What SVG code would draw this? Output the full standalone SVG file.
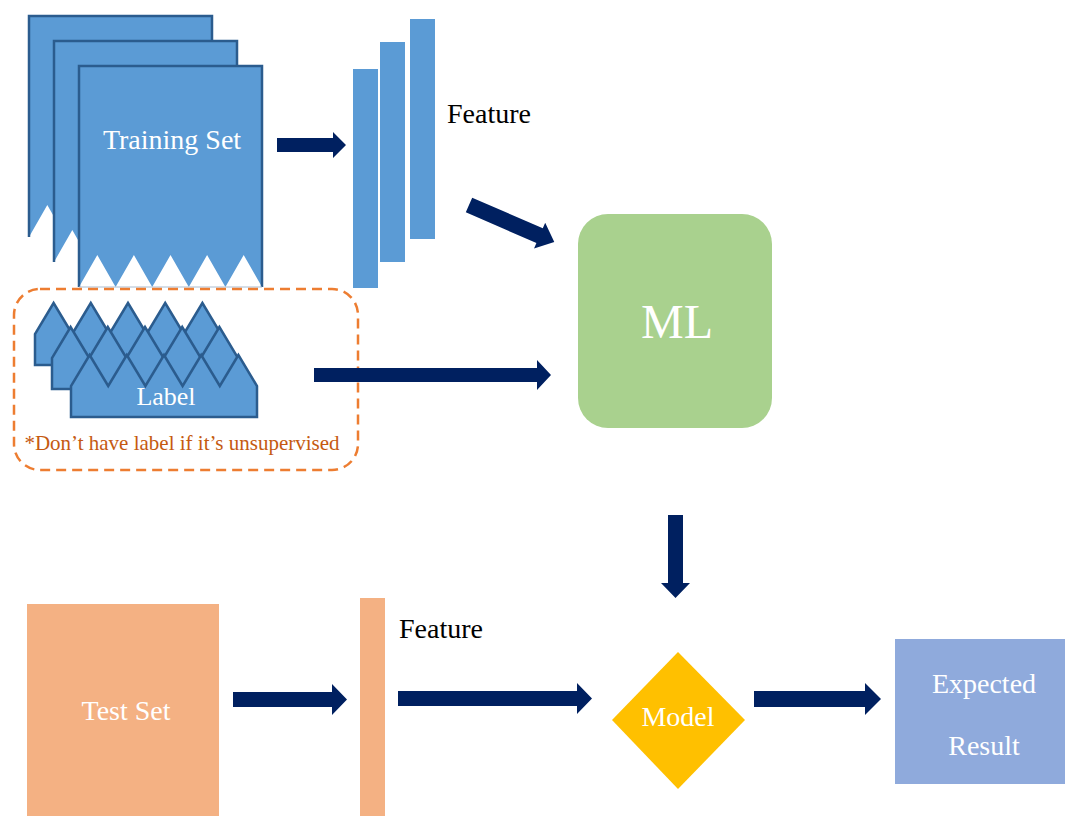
<svg xmlns="http://www.w3.org/2000/svg" xmlns:xlink="http://www.w3.org/1999/xlink" width="1065" height="816" viewBox="0 0 1065 816">
<style>
text{font-family:"Liberation Serif","Times New Roman","DejaVu Serif",serif;}
.page{fill:#5B9BD5;stroke:#2B5C8E;stroke-width:2.5;stroke-linejoin:miter;}
.pagefill{fill:#5B9BD5;stroke:none;}
.pageedge{fill:none;stroke:#2B5C8E;stroke-width:2.5;}
.pagebase{fill:none;stroke:#A9BCD0;stroke-width:1;}
.bar{fill:#5B9BD5;}
.peach{fill:#F4B183;}
.arrow{fill:#002060;}
.w{fill:#FFFFFF;}
.k{fill:#000000;}
</style>
<defs>
<g id="pageShape">
<polygon class="pagefill" points="0,0 183,0 183,221 164.7,189 146.4,221 128.1,189 109.8,221 91.5,189 73.2,221 54.9,189 36.6,221 18.3,189 0,221"/>
<polyline class="pageedge" points="0,221 0,0 183,0 183,221"/>
</g>
<polygon id="labelShape" class="page" points="0,62 0,31 18.6,0 37.2,31 55.8,0 74.4,31 93,0 111.6,31 130.2,0 148.8,31 167.4,0 186,31 186,62"/>
</defs>

<g id="training-set">
<use xlink:href="#pageShape" transform="translate(29,16)"/>
<use xlink:href="#pageShape" transform="translate(54,41)"/>
<use xlink:href="#pageShape" transform="translate(79,66)"/>
<line class="pagebase" x1="79" y1="287" x2="262" y2="287"/>
<text x="172" y="149" font-size="28" text-anchor="middle" class="w">Training Set</text>
</g>

<g id="label-group">
<rect x="14" y="289" width="344" height="181" rx="26" ry="26" fill="none" stroke="#ED7D31" stroke-width="2.5" stroke-dasharray="10,6"/>
<use xlink:href="#labelShape" transform="translate(35,303)"/>
<use xlink:href="#labelShape" transform="translate(52,327)"/>
<use xlink:href="#labelShape" transform="translate(71,355)"/>
<text x="166" y="405" font-size="26" text-anchor="middle" class="w">Label</text>
<text x="182" y="450" font-size="21" text-anchor="middle" fill="#C55A11">*Don’t have label if it’s unsupervised</text>
</g>

<g id="train-feature">
<rect class="bar" x="353" y="69" width="25" height="219"/>
<rect class="bar" x="380" y="42" width="25" height="220"/>
<rect class="bar" x="410" y="19" width="25" height="220"/>
<text x="447" y="123" font-size="28" class="k">Feature</text>
</g>

<g id="ml">
<rect x="578" y="214" width="194" height="214" rx="30" ry="30" fill="#A9D18E"/>
<text x="677" y="338" font-size="48" text-anchor="middle" class="w">ML</text>
</g>

<g id="test-set">
<rect class="peach" x="27" y="604" width="192" height="212"/>
<text x="126" y="720" font-size="28" text-anchor="middle" class="w">Test Set</text>
</g>

<g id="test-feature">
<rect class="peach" x="360" y="598" width="25" height="218"/>
<text x="399" y="638" font-size="28" class="k">Feature</text>
</g>

<g id="model">
<polygon points="678,652 745,720 678,789 612,720" fill="#FFC000"/>
<text x="678" y="726" font-size="28" text-anchor="middle" class="w">Model</text>
</g>

<g id="expected-result">
<rect x="895" y="639" width="170" height="145" fill="#8FAADC"/>
<text x="984" y="693" font-size="28" text-anchor="middle" class="w">Expected</text>
<text x="984" y="755" font-size="28" text-anchor="middle" class="w">Result</text>
</g>

<g id="connectors">
<polygon class="arrow" points="277,138 333,138 333,132 346,145 333,158 333,152 277,152"/>
<polygon class="arrow" transform="translate(469,205) rotate(23.5)" points="0,-8 77,-8 77,-14 93,0 77,14 77,8 0,8"/>
<polygon class="arrow" points="314,368 537,368 537,360 551,375 537,390 537,382 314,382"/>
<polygon class="arrow" points="668,515 683,515 683,583 690,583 675.5,598 661,583 668,583"/>
<polygon class="arrow" points="233,692 332,692 332,684 347,699.5 332,715 332,707 233,707"/>
<polygon class="arrow" points="398,691 577,691 577,683 592,698.5 577,714 577,706 398,706"/>
<polygon class="arrow" points="754,691 865,691 865,683 881,699 865,715 865,707 754,707"/>
</g>
</svg>
